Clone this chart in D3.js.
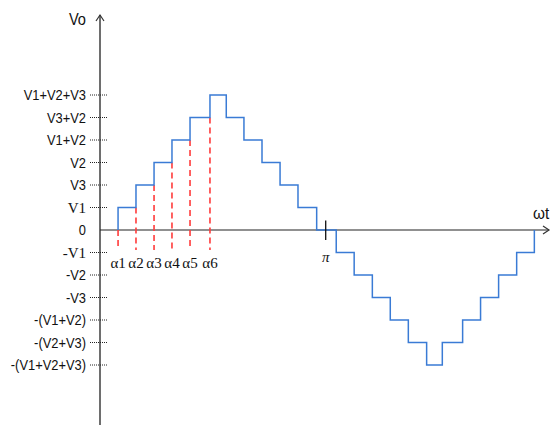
<!DOCTYPE html>
<html><head><meta charset="utf-8">
<script src="https://cdn.jsdelivr.net/npm/d3@7"></script>
<style>
html,body{margin:0;padding:0;background:#fff;overflow:hidden}
svg{display:block}
.lab{font-family:"Liberation Sans",Arial,sans-serif;font-size:15px;fill:#111}
.ser{font-family:"Liberation Serif","Times New Roman",serif;font-size:15px;fill:#111}
</style></head>
<body>
<script>
// Level labels (level value -> text)
const levelValues = [-6,-5,-4,-3,-2,-1,0,1,2,3,4,5,6];
const levelLabels = ["-(V1+V2+V3)","-(V2+V3)","-(V1+V2)","-V3","-V2","-V1","0","V1","V3","V2","V1+V2","V3+V2","V1+V2+V3"];
const serifLabels = ["V1","-V1"];
// Switching angles (degrees)
const alphaNames = ["α1","α2","α3","α4","α5","α6"];
const alphaAngles = [14.4,28.7,43.1,57.4,71.8,87.7];
// Staircase transition angles and level after each transition
const stepAngles = [0,14.4,28.7,43.1,57.4,71.8,87.7,100.7,114.8,129.2,143.6,157.9,172.8,188.4,202.7,217.2,231.5,245.9,260.5,273.0,289.2,303.5,317.9,332.3,346.4];
const stepLevels = [0,1,2,3,4,5,6,5,4,3,2,1,0,-1,-2,-3,-4,-5,-6,-5,-4,-3,-2,-1,0];
const piAngle = 180;

const W=551,H=427;
const svg=d3.select("body").append("svg").attr("width",W).attr("height",H);
const x=d3.scaleLinear().domain([0,180]).range([100,325.7]);
const y=d3.scaleLinear().domain([-6,6]).range([365,95]);
const x0=x(0), y0=y(0);

// y axis
svg.append("line").attr("x1",x0).attr("x2",x0).attr("y1",15).attr("y2",425).attr("stroke","#6e6e6e").attr("stroke-width",2);
svg.append("path").attr("d",`M${x0-4},${21} L${x0},${15} L${x0+4},${21}`).attr("fill","none").attr("stroke","#333").attr("stroke-width",1.2);
// x axis
svg.append("line").attr("x1",x0).attr("x2",549).attr("y1",y0).attr("y2",y0).attr("stroke","#222").attr("stroke-width",1.2);
svg.append("path").attr("d",`M${543},${y0-4} L${549},${y0} L${543},${y0+4}`).attr("fill","none").attr("stroke","#333").attr("stroke-width",1.2);

// dotted ticks and labels
levelValues.forEach((v,i)=>{
  if(v!==0){
    svg.append("line").attr("x1",90).attr("x2",108).attr("y1",y(v)).attr("y2",y(v))
      .attr("stroke","#222").attr("stroke-width",1).attr("stroke-dasharray","1,1");
  }
  const t=levelLabels[i];
  const serif=serifLabels.includes(t);
  svg.append("g").attr("transform",`translate(86,${y(v)+5}) scale(${serif?1:0.86},1)`)
    .append("text").attr("class",serif?"ser":"lab")
    .attr("x",0).attr("y",0).attr("text-anchor","end").text(t);
});

// red dashed alpha lines
alphaAngles.forEach((a,i)=>{
  svg.append("line").attr("x1",x(a)).attr("x2",x(a)).attr("y1",y(i)).attr("y2",250)
    .attr("stroke","#ff3b3b").attr("stroke-width",1.6).attr("stroke-dasharray","6,4");
  svg.append("text").attr("class","ser").attr("x",x(a)).attr("y",268).attr("text-anchor","middle").text(alphaNames[i]);
});

// staircase
const pts=[];
for(let i=1;i<stepAngles.length;i++){
  pts.push([stepAngles[i],stepLevels[i-1]]);
  pts.push([stepAngles[i],stepLevels[i]]);
  if(i<stepAngles.length-1) pts.push([stepAngles[i+1],stepLevels[i]]);
}
svg.append("path").datum(pts).attr("d",d3.line().x(d=>x(d[0])).y(d=>y(d[1])))
  .attr("fill","none").attr("stroke","#3a7bd5").attr("stroke-width",1.5);

// pi tick
svg.append("line").attr("x1",x(piAngle)).attr("x2",x(piAngle)).attr("y1",220.5).attr("y2",240).attr("stroke","#111").attr("stroke-width",1.3);
svg.append("text").attr("class","ser").attr("x",x(piAngle)).attr("y",262).attr("text-anchor","middle").style("font-style","italic").text("π");

// axis titles
svg.append("g").attr("transform","translate(86,25) scale(0.86,1)").append("text").attr("class","lab").attr("text-anchor","end").style("font-size","17px").text("Vo");
svg.append("g").attr("transform","translate(533,219) scale(0.9,1)").append("text").attr("class","lab").style("font-size","17px").text("ωt");
</script>
</body></html>
